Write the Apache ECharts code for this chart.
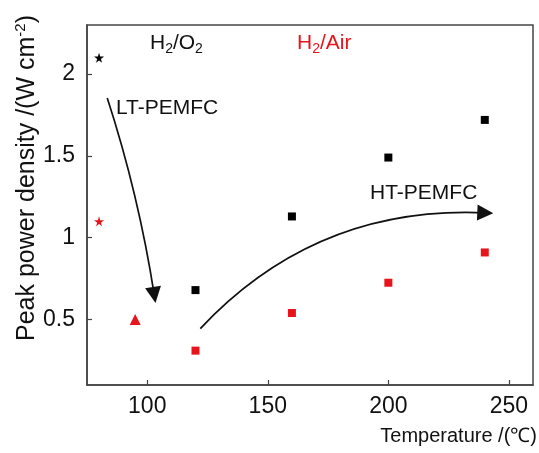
<!DOCTYPE html>
<html>
<head>
<meta charset="utf-8">
<script src="https://cdn.jsdelivr.net/npm/echarts@6/dist/echarts.min.js"></script>
<style>
html,body{margin:0;padding:0;background:#fff;}
#c{width:539px;height:453px;}
</style>
</head>
<body>
<div id="c"></div>
<script>
// ---- data ----
var xTicks = [100, 150, 200, 250];
var yTicks = [0.5, 1, 1.5, 2];
var o2Star = [[80, 2.1]];
var airStar = [[80, 1.1]];
var airTriangle = [[95, 0.5]];
var o2Squares = [[120, 0.68], [160, 1.13], [200, 1.49], [240, 1.72]];
var airSquares = [[120, 0.31], [160, 0.54], [200, 0.725], [240, 0.91]];
var ltArrow = [[83.4, 1.854], [102.9, 0.65]];
var htArrow = [[122.0, 0.445], [240.2, 1.152]];

var FONT = 'Liberation Sans, Arial, sans-serif';
var RED = '#e8141b';
var STAR = 'path://M50,0 L61,35 L98,35 L68,57 L79,91 L50,70 L21,91 L32,57 L2,35 L39,35 Z';

var chart = echarts.init(document.getElementById('c'), null, {renderer: 'canvas'});

function scatter(name, data, symbol, size, color) {
  return {
    name: name, type: 'scatter', data: data, symbol: symbol, symbolSize: size,
    itemStyle: {color: color, opacity: 1}, silent: true, z: 3
  };
}
function arrow(coords, curveness) {
  return {
    type: 'lines', coordinateSystem: 'cartesian2d', silent: true,
    symbol: ['none', 'triangle'], symbolSize: 16,
    lineStyle: {color: '#111', width: 1.7, curveness: curveness, opacity: 1},
    itemStyle: {color: '#111'},
    data: [{coords: coords}], z: 2
  };
}

var option = {
  animation: false,
  backgroundColor: '#fff',
  grid: {left: 87, right: 6, top: 25, bottom: 68, show: true, borderColor: '#444', borderWidth: 1.5, backgroundColor: 'transparent'},
  xAxis: {
    type: 'value', min: 75, max: 260,
    axisLine: {show: true, lineStyle: {color: '#444', width: 1.5}},
    axisTick: {show: true, inside: true, length: 5, customValues: xTicks, lineStyle: {color: '#444', width: 1.2}},
    axisLabel: {customValues: xTicks, fontSize: 23, fontFamily: FONT, color: '#111', margin: 10},
    splitLine: {show: false}
  },
  yAxis: {
    type: 'value', min: 0.1, max: 2.3,
    axisLine: {show: true, lineStyle: {color: '#444', width: 1.5}},
    axisTick: {show: true, inside: true, length: 5, customValues: yTicks, lineStyle: {color: '#444', width: 1.2}},
    axisLabel: {customValues: yTicks, fontSize: 23, fontFamily: FONT, color: '#111', margin: 12},
    splitLine: {show: false}
  },
  series: [
    scatter('H2/O2 LT', o2Star, STAR, 10, '#000'),
    scatter('H2/Air LT', airStar, STAR, 10, RED),
    scatter('H2/Air LT2', airTriangle, 'triangle', 11, RED),
    scatter('H2/O2 HT', o2Squares, 'rect', 8, '#000'),
    scatter('H2/Air HT', airSquares, 'rect', 8, RED),
    arrow(ltArrow, 0.04),
    arrow(htArrow, 0.23)
  ],
  graphic: [
    {type: 'text', left: 150, top: 33, style: {
      text: '{n|H}{s|2}{n|/O}{s|2}', fill: '#111',
      rich: {n: {fontSize: 21, fontFamily: FONT, fill: '#111'}, s: {fontSize: 14, fontFamily: FONT, fill: '#111', padding: [12, 0, 0, 0]}}
    }},
    {type: 'text', left: 297, top: 33, style: {
      text: '{n|H}{s|2}{n|/Air}', fill: RED,
      rich: {n: {fontSize: 21, fontFamily: FONT, fill: RED}, s: {fontSize: 14, fontFamily: FONT, fill: RED, padding: [12, 0, 0, 0]}}
    }},
    {type: 'text', left: 116, top: 98, style: {text: 'LT-PEMFC', fontSize: 21, fontFamily: FONT, fill: '#111'}},
    {type: 'text', left: 370, top: 183, style: {text: 'HT-PEMFC', fontSize: 21, fontFamily: FONT, fill: '#111'}},
    {type: 'text', right: 2, top: 426, style: {text: 'Temperature /(\u2103)', fontSize: 20, fontFamily: FONT, fill: '#111'}},
    {type: 'text', x: 27, y: 178, rotation: Math.PI / 2, style: {
      text: '{n|Peak power density /(W cm}{p|-2}{n|)}', align: 'center', verticalAlign: 'middle', fill: '#111',
      rich: {n: {fontSize: 25, fontFamily: FONT, fill: '#111'}, p: {fontSize: 15, fontFamily: FONT, fill: '#111', padding: [0, 0, 12, 0]}}
    }}
  ]
};
chart.setOption(option);
</script>
</body>
</html>
